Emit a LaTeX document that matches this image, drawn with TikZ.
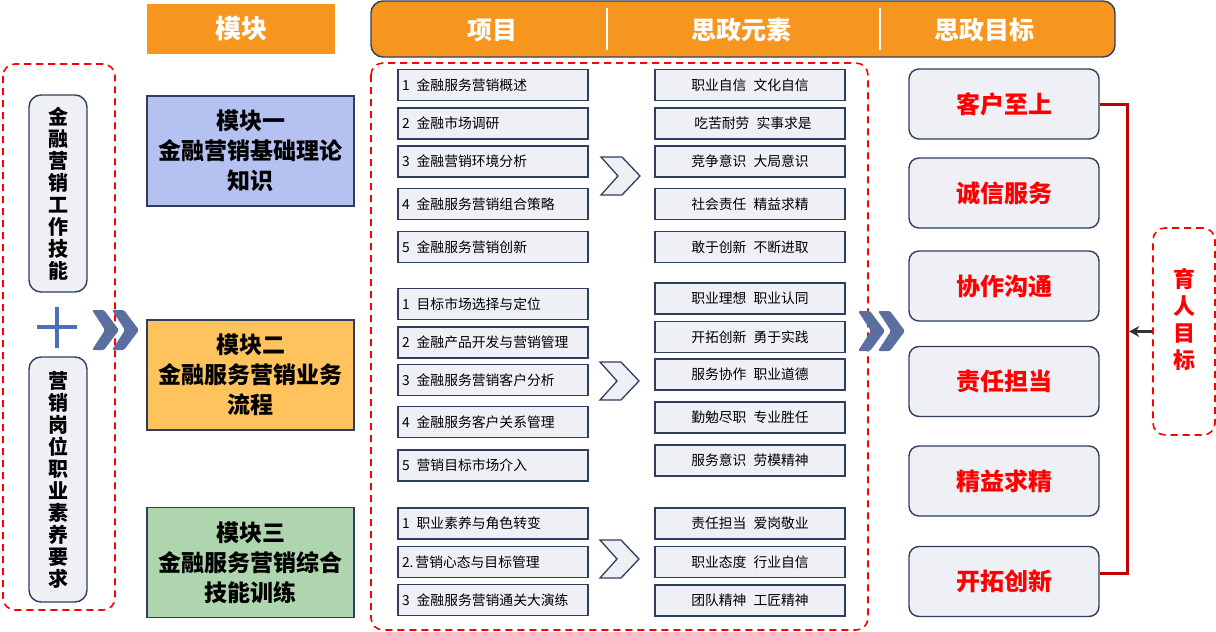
\documentclass[tikz,border=0pt]{standalone}
\usepackage{fontspec}
\setmainfont{Noto Sans CJK SC}
\usetikzlibrary{arrows.meta,calc}
\definecolor{hdorange}{HTML}{F7961E}
\definecolor{navy}{HTML}{2F3E5E}
\definecolor{boxgray}{HTML}{EEF0F6}
\definecolor{chevblue}{HTML}{5A6EA0}
\definecolor{plusblue}{HTML}{4A70B8}
\definecolor{modblue}{HTML}{B4C1F1}
\definecolor{modyellow}{HTML}{FEC35C}
\definecolor{modgreen}{HTML}{AFD5AF}
\definecolor{goalred}{HTML}{FF0000}
\definecolor{linered}{HTML}{C00000}
\tikzset{
  pics/bigchev/.style={code={\fill[chevblue,rounded corners=1.5pt] (0,0)--(12,0)--(27,20)--(12,40)--(0,40)--(13,20)--cycle;}},
  pics/smallchev/.style={code={\draw[navy,fill=boxgray,line width=1.3pt] (0,0)--(21,0)--(39,19)--(21,38)--(0,38)--(17,19)--cycle;}}
}

\begin{document}
\begin{tikzpicture}[x=1pt,y=-1pt,every node/.style={font=\fontsize{13.8}{16}\selectfont},
  frame/.style={draw=navy,line width=1.4pt,fill=boxgray},
  item/.style={frame,minimum width=190pt,minimum height=31pt,text width=182pt,inner xsep=4pt,inner ysep=0pt,align=left},
  elem/.style={frame,minimum width=190pt,minimum height=31pt,inner sep=0pt,align=center},
  goal/.style={frame,rounded corners=10pt,minimum width=190pt,minimum height=70pt,text=goalred,font=\bfseries\fontsize{24}{28}\selectfont},
  modbox/.style={draw=navy,line width=1.4pt,minimum width=207pt,minimum height=110pt,align=center,font=\bfseries\fontsize{23}{30}\selectfont},
  sidebox/.style={frame,rounded corners=12pt,minimum width=58pt,align=center,inner sep=0pt,font=\bfseries\fontsize{20}{22}\selectfont},
  hdtext/.style={text=white,font=\bfseries\fontsize{25}{28}\selectfont},
  reddash/.style={draw=goalred,line width=1.6pt,dash pattern=on 7pt off 5pt,rounded corners=12pt}]
\useasboundingbox (0,0) rectangle (1216,632);
\node[fill=hdorange,minimum width=188pt,minimum height=50pt,text=white,font=\bfseries\fontsize{26}{28}\selectfont] (hmk) at (241,29) {模块};
\node[draw=navy,line width=1.4pt,fill=hdorange,rounded corners=12pt,minimum width=744pt,minimum height=56pt] (hdr) at (743,29) {};
\draw[white,line width=2.5pt] (607,8)--(607,50); \draw[white,line width=2.5pt] (880,8)--(880,50);
\node[hdtext] (hxm) at (492,30) {项目};
\node[hdtext] (hys) at (741,30) {思政元素};
\node[hdtext] (hmb) at (984,30) {思政目标};
\draw[reddash] (3,64) rectangle (115,610);
\draw[reddash] (371,63) rectangle (868,630);
\node[sidebox,minimum height=197pt] (sk1) at (58,193.5) {金\\融\\营\\销\\工\\作\\技\\能};
\node[sidebox,minimum height=245pt] (sk2) at (58,479.5) {营\\销\\岗\\位\\职\\业\\素\\养\\要\\求};
\draw[plusblue,line width=4pt] (57,307)--(57,348); \draw[plusblue,line width=4pt] (37,327)--(77,327);
\pic at (92,310) {bigchev}; \pic at (112,310) {bigchev};
\node[modbox,fill=modblue] (m1) at (250.5,151) {模块一\\金融营销基础理论\\知识};
\node[modbox,fill=modyellow] (m2) at (250.5,375) {模块二\\金融服务营销业务\\流程};
\node[modbox,fill=modgreen] (m3) at (250.5,562.5) {模块三\\金融服务营销综合\\技能训练};
\node[item] (p1) at (493,85) {1\hspace{7pt}金融服务营销概述};
\node[item] (p2) at (493,123.5) {2\hspace{7pt}金融市场调研};
\node[item] (p3) at (493,161.5) {3\hspace{7pt}金融营销环境分析};
\node[item] (p4) at (493,204) {4\hspace{7pt}金融服务营销组合策略};
\node[item] (p5) at (493,247) {5\hspace{7pt}金融服务营销创新};
\node[item] (p6) at (493,304) {1\hspace{7pt}目标市场选择与定位};
\node[item] (p7) at (493,342.5) {2\hspace{7pt}金融产品开发与营销管理};
\node[item] (p8) at (493,380) {3\hspace{7pt}金融服务营销客户分析};
\node[item] (p9) at (493,422) {4\hspace{7pt}金融服务客户关系管理};
\node[item] (p10) at (493,465.5) {5\hspace{7pt}营销目标市场介入};
\node[item] (p11) at (493,523.5) {1\hspace{7pt}职业素养与角色转变};
\node[item] (p12) at (493,562) {2.\hspace{2pt}营销心态与目标管理};
\node[item] (p13) at (493,600) {3\hspace{7pt}金融服务营销通关大演练};
\pic at (601,157) {smallchev}; \pic at (600,362) {smallchev}; \pic at (600,540) {smallchev};
\node[elem] (e1) at (750,85) {职业自信\hspace{7pt}文化自信};
\node[elem] (e2) at (750,123.5) {\hspace{6pt}吃苦耐劳\hspace{7pt}实事求是};
\node[elem] (e3) at (750,161.5) {竞争意识\hspace{7pt}大局意识};
\node[elem] (e4) at (750,204) {社会责任\hspace{7pt}精益求精};
\node[elem] (e5) at (750,247) {敢于创新\hspace{7pt}不断进取};
\node[elem] (e6) at (750,298.5) {职业理想\hspace{7pt}职业认同};
\node[elem] (e7) at (750,337) {开拓创新\hspace{7pt}勇于实践};
\node[elem] (e8) at (750,374.5) {服务协作\hspace{7pt}职业道德};
\node[elem] (e9) at (750,417.5) {勤勉尽职\hspace{7pt}专业胜任};
\node[elem] (e10) at (750,460.5) {服务意识\hspace{7pt}劳模精神};
\node[elem] (e11) at (750,523.5) {责任担当\hspace{7pt}爱岗敬业};
\node[elem] (e12) at (750,562) {职业态度\hspace{7pt}行业自信};
\node[elem] (e13) at (750,600.5) {团队精神\hspace{7pt}工匠精神};
\pic at (858,311) {bigchev}; \pic at (878,311) {bigchev};
\node[goal] (g1) at (1004,104) {客户至上};
\node[goal] (g2) at (1004,193) {诚信服务};
\node[goal] (g3) at (1004,286) {协作沟通};
\node[goal] (g4) at (1004,381.5) {责任担当};
\node[goal] (g5) at (1004,481) {精益求精};
\node[goal] (g6) at (1004,581.5) {开拓创新};
\coordinate (rt) at ($(g1.east)+(28,0)$);
\draw[linered,line width=3pt] (g1.east)--(rt) |- ([yshift=8pt]g6.east);
\node[reddash,minimum width=62pt,minimum height=207pt] (yr) at (1184,331.5) {};
\node[text=goalred,align=center,font=\bfseries\fontsize{22}{27}\selectfont] (yrt) at ([yshift=12pt]yr.center) {育\\人\\目\\标};
\draw[-{Stealth[length=10pt,width=11pt]},line width=3.5pt,black!80] (yr.west)--([xshift=1.5pt]yr.west -| rt);
\end{tikzpicture}
\end{document}
